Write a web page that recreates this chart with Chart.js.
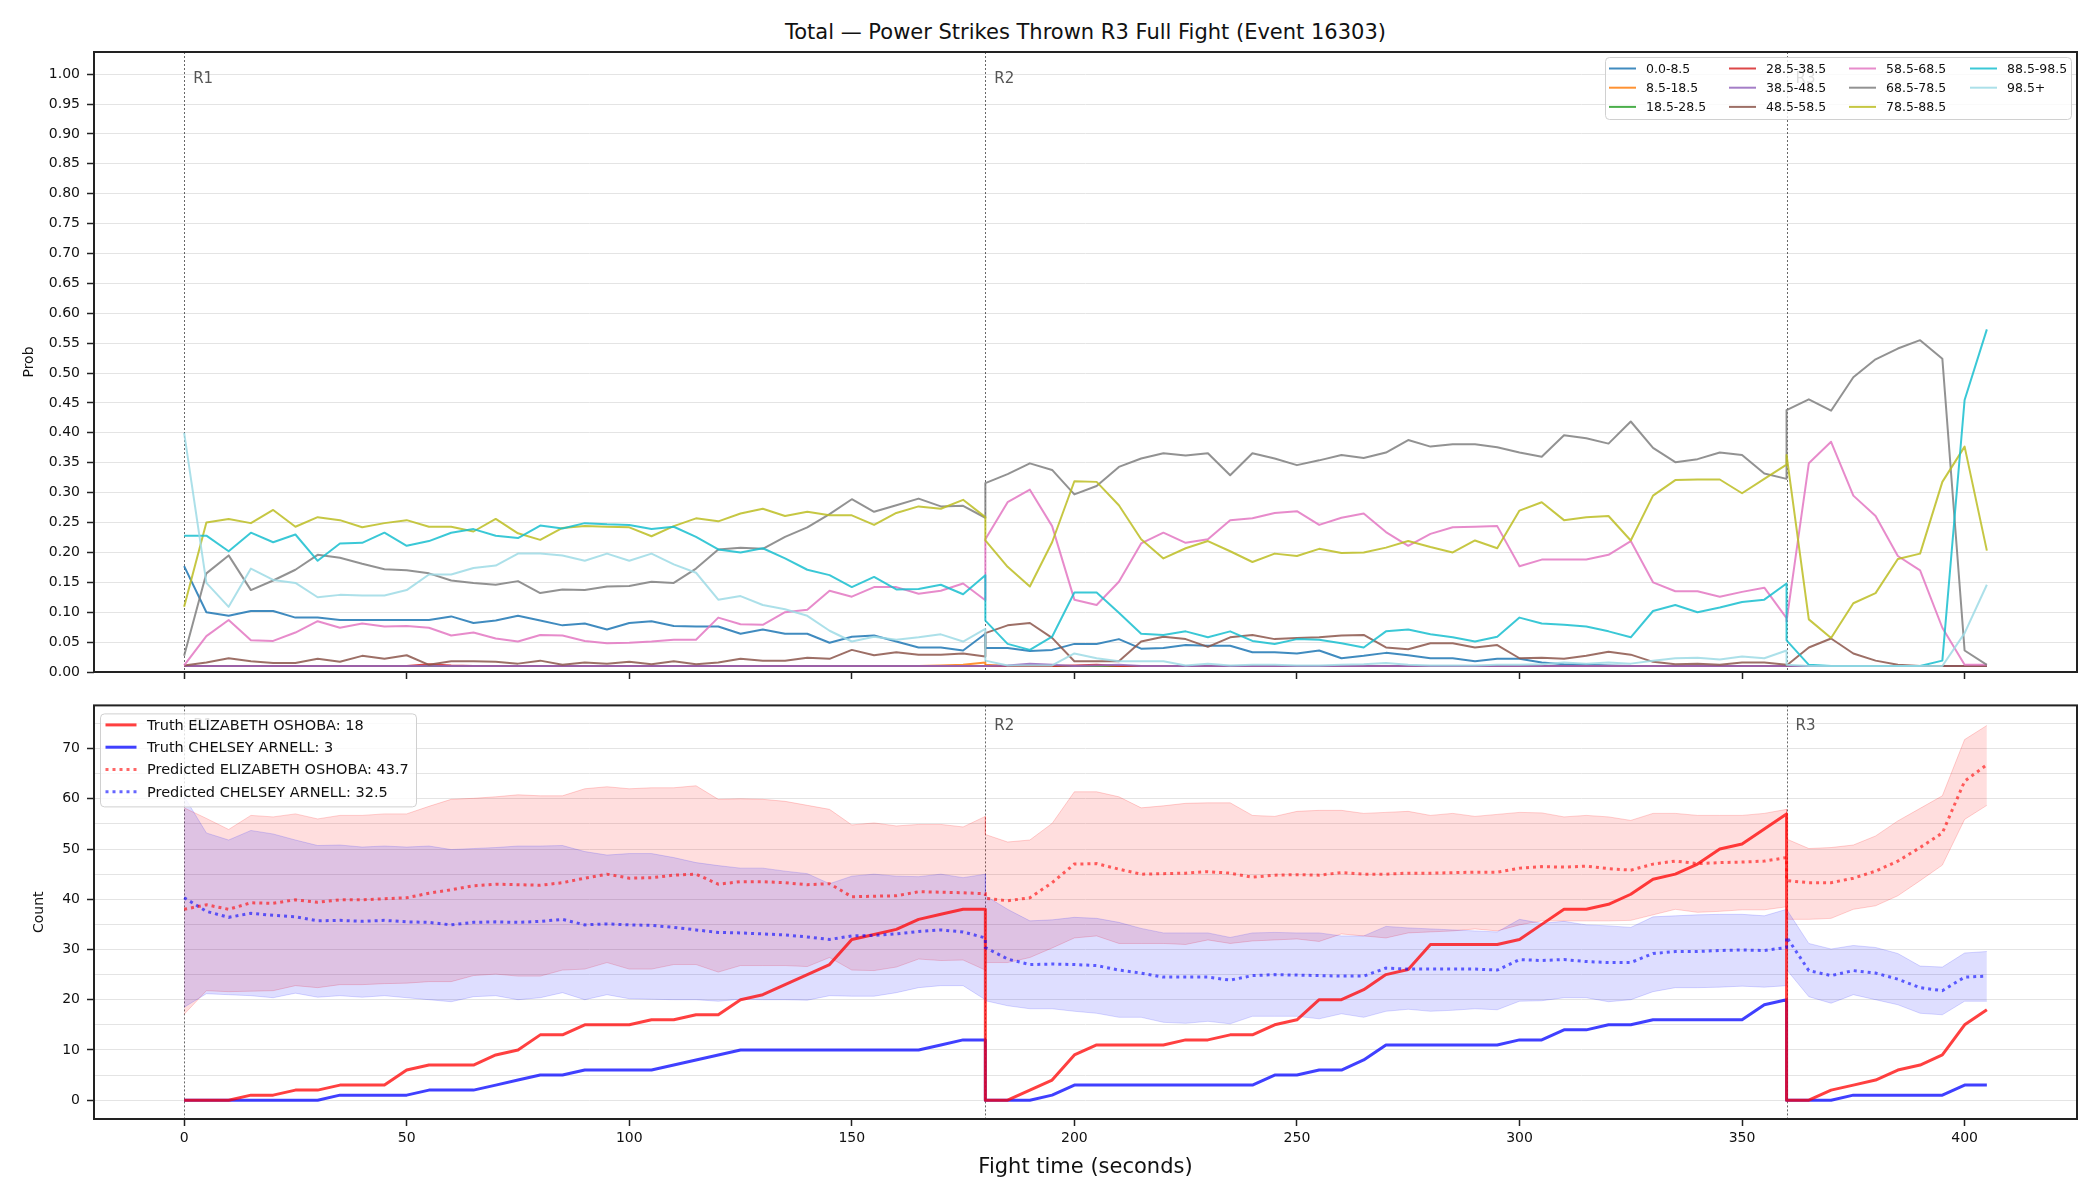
<!DOCTYPE html>
<html>
<head>
<meta charset="utf-8">
<script src="https://cdn.jsdelivr.net/npm/chart.js@4.4.1/dist/chart.umd.min.js"></script>
<style>
  body { margin: 0; background: #fff; }
  #wrap { position: relative; width: 2100px; height: 1200px; font-family: "DejaVu Sans", sans-serif; }
  #title { position: absolute; left: 94px; width: 1983px; top: 20px; text-align: center; font-size: 21px; line-height: 24px; color: #111; }
  #probChart { position: absolute; left: 0; top: 0; }
  #countChart { position: absolute; left: 0; top: 690px; }
</style>
</head>
<body>
<div id="wrap">
  <div id="title">Total — Power Strikes Thrown R3 Full Fight (Event 16303)</div>
  <canvas id="probChart" width="2100" height="690"></canvas>
  <canvas id="countChart" width="2100" height="510"></canvas>
</div>
<script>
// fight time (seconds); round boundaries appear twice (end of one round, start of the next)
const times = [
  0, 5, 10, 15, 20, 25, 30, 35, 40, 45, 50, 55, 60, 65, 70, 75, 80, 85, 90, 95,
  100, 105, 110, 115, 120, 125, 130, 135, 140, 145, 150, 155, 160, 165, 170, 175, 180,
  180, 185, 190, 195, 200, 205, 210, 215, 220, 225, 230, 235, 240, 245, 250, 255, 260, 265, 270, 275,
  280, 285, 290, 295, 300, 305, 310, 315, 320, 325, 330, 335, 340, 345, 350, 355, 360,
  360, 365, 370, 375, 380, 385, 390, 395, 400, 405
];
const roundStarts = [0, 180, 360];
const roundNames = ['R1', 'R2', 'R3'];
const timeTicks = [0, 50, 100, 150, 200, 250, 300, 350, 400];
const probTicks = [0, 0.05, 0.1, 0.15, 0.2, 0.25, 0.3, 0.35, 0.4, 0.45, 0.5, 0.55, 0.6, 0.65, 0.7, 0.75, 0.8, 0.85, 0.9, 0.95, 1.0];
const countTicks = [0, 5, 10, 15, 20, 25, 30, 35, 40, 45, 50, 55, 60, 65, 70, 75];

const binLabels = ['0.0-8.5', '8.5-18.5', '18.5-28.5', '28.5-38.5', '38.5-48.5', '48.5-58.5',
                   '58.5-68.5', '68.5-78.5', '78.5-88.5', '88.5-98.5', '98.5+'];

// probability of each bin over time
const p0to8 = [
  0.177, 0.10, 0.094, 0.102, 0.102, 0.091, 0.091, 0.087, 0.087, 0.087,
  0.087, 0.087, 0.093, 0.082, 0.086, 0.094, 0.086, 0.078, 0.081, 0.071,
  0.082, 0.085, 0.077, 0.076, 0.076, 0.064, 0.071, 0.064, 0.064, 0.049,
  0.059, 0.061, 0.051, 0.041, 0.041, 0.036, 0.064,
  0.04, 0.04, 0.035, 0.037, 0.047, 0.047, 0.055, 0.039, 0.04, 0.045,
  0.044, 0.044, 0.033, 0.033, 0.031, 0.036, 0.023, 0.027, 0.032, 0.028,
  0.023, 0.023, 0.018, 0.022, 0.022, 0.016, 0.013, 0.012, 0.011, 0.01,
  0.01, 0.01, 0.01, 0.01, 0.01, 0.01, 0.01,
  0.01, 0.01, 0.01, 0.01, 0.01, 0.01, 0.01, 0.01, 0.01, 0.01
];
const p8to18 = [
  0.01, 0.01, 0.01, 0.01, 0.01, 0.01, 0.01, 0.01, 0.01, 0.01,
  0.01, 0.01, 0.01, 0.01, 0.01, 0.01, 0.01, 0.01, 0.01, 0.01,
  0.01, 0.01, 0.01, 0.01, 0.01, 0.01, 0.01, 0.01, 0.01, 0.01,
  0.01, 0.01, 0.01, 0.01, 0.011, 0.012, 0.016,
  0.012, 0.01, 0.01, 0.01, 0.01, 0.01, 0.01, 0.01, 0.01, 0.01,
  0.01, 0.01, 0.01, 0.01, 0.01, 0.01, 0.01, 0.01, 0.01, 0.01,
  0.01, 0.01, 0.01, 0.01, 0.01, 0.01, 0.01, 0.01, 0.01, 0.01,
  0.01, 0.01, 0.01, 0.01, 0.01, 0.01, 0.01,
  0.01, 0.01, 0.01, 0.01, 0.01, 0.01, 0.01, 0.01, 0.01, 0.01
];
const p18to28 = [
  0.01, 0.01, 0.01, 0.01, 0.01, 0.01, 0.01, 0.01, 0.01, 0.01,
  0.01, 0.01, 0.01, 0.01, 0.01, 0.01, 0.01, 0.01, 0.01, 0.01,
  0.01, 0.01, 0.01, 0.01, 0.01, 0.01, 0.01, 0.01, 0.01, 0.01,
  0.01, 0.01, 0.01, 0.01, 0.01, 0.01, 0.01,
  0.01, 0.01, 0.01, 0.01, 0.01, 0.01, 0.01, 0.01, 0.01, 0.01,
  0.01, 0.01, 0.01, 0.01, 0.01, 0.01, 0.01, 0.01, 0.01, 0.01,
  0.01, 0.01, 0.01, 0.01, 0.01, 0.01, 0.01, 0.01, 0.01, 0.01,
  0.01, 0.01, 0.01, 0.01, 0.01, 0.01, 0.01,
  0.01, 0.01, 0.01, 0.01, 0.01, 0.01, 0.01, 0.01, 0.01, 0.01
];
const p28to38 = [
  0.01, 0.01, 0.01, 0.01, 0.01, 0.01, 0.01, 0.01, 0.01, 0.01,
  0.01, 0.013, 0.011, 0.01, 0.01, 0.01, 0.01, 0.01, 0.01, 0.01,
  0.01, 0.01, 0.01, 0.01, 0.01, 0.01, 0.01, 0.01, 0.01, 0.01,
  0.01, 0.01, 0.01, 0.01, 0.01, 0.01, 0.01,
  0.01, 0.01, 0.01, 0.01, 0.011, 0.012, 0.01, 0.01, 0.01, 0.01,
  0.01, 0.01, 0.01, 0.01, 0.01, 0.01, 0.01, 0.01, 0.01, 0.01,
  0.01, 0.01, 0.01, 0.01, 0.01, 0.01, 0.01, 0.01, 0.01, 0.01,
  0.01, 0.01, 0.01, 0.01, 0.01, 0.01, 0.01,
  0.01, 0.01, 0.01, 0.01, 0.01, 0.01, 0.01, 0.01, 0.01, 0.01
];
const p38to48 = [
  0.01, 0.01, 0.01, 0.01, 0.01, 0.01, 0.01, 0.01, 0.01, 0.01,
  0.01, 0.01, 0.01, 0.01, 0.01, 0.01, 0.01, 0.01, 0.01, 0.01,
  0.01, 0.01, 0.01, 0.01, 0.01, 0.01, 0.01, 0.01, 0.01, 0.01,
  0.01, 0.01, 0.01, 0.01, 0.01, 0.01, 0.01,
  0.01, 0.011, 0.014, 0.012, 0.01, 0.011, 0.012, 0.01, 0.01, 0.01,
  0.01, 0.01, 0.01, 0.01, 0.01, 0.01, 0.01, 0.01, 0.01, 0.01,
  0.01, 0.01, 0.01, 0.01, 0.01, 0.01, 0.01, 0.01, 0.01, 0.01,
  0.01, 0.01, 0.01, 0.01, 0.01, 0.01, 0.01,
  0.01, 0.01, 0.01, 0.01, 0.01, 0.01, 0.01, 0.01, 0.01, 0.01
];
const p48to58 = [
  0.011, 0.016, 0.023, 0.018, 0.015, 0.015, 0.022, 0.017, 0.027, 0.022,
  0.028, 0.012, 0.018, 0.018, 0.017, 0.014, 0.019, 0.012, 0.016, 0.014,
  0.017, 0.013, 0.018, 0.013, 0.016, 0.022, 0.019, 0.019, 0.024, 0.022,
  0.037, 0.028, 0.033, 0.029, 0.029, 0.031, 0.026,
  0.065, 0.078, 0.082, 0.057, 0.018, 0.018, 0.018, 0.051, 0.059, 0.055,
  0.042, 0.058, 0.062, 0.055, 0.057, 0.058, 0.061, 0.062, 0.041, 0.038,
  0.048, 0.048, 0.041, 0.045, 0.023, 0.024, 0.022, 0.027, 0.034, 0.029,
  0.017, 0.013, 0.014, 0.012, 0.016, 0.016, 0.012,
  0.011, 0.041, 0.056, 0.031, 0.019, 0.012, 0.01, 0.01, 0.01, 0.01
];
const p58to68 = [
  0.011, 0.06, 0.087, 0.053, 0.052, 0.066, 0.085, 0.074, 0.081, 0.076,
  0.077, 0.074, 0.061, 0.066, 0.056, 0.051, 0.062, 0.061, 0.052, 0.048,
  0.049, 0.051, 0.054, 0.054, 0.091, 0.08, 0.079, 0.10, 0.104, 0.136,
  0.126, 0.142, 0.142, 0.131, 0.136, 0.148, 0.12,
  0.222, 0.284, 0.305, 0.244, 0.121, 0.112, 0.151, 0.215, 0.233, 0.216,
  0.222, 0.254, 0.257, 0.266, 0.269, 0.246, 0.258, 0.265, 0.234, 0.211,
  0.231, 0.242, 0.243, 0.244, 0.177, 0.188, 0.188, 0.188, 0.196, 0.219,
  0.15, 0.135, 0.135, 0.126, 0.134, 0.141, 0.09,
  0.085, 0.349, 0.385, 0.295, 0.261, 0.194, 0.17, 0.074, 0.012, 0.012
];
const p68to78 = [
  0.027, 0.165, 0.195, 0.137, 0.153, 0.171, 0.196, 0.191, 0.181, 0.172,
  0.17, 0.165, 0.153, 0.149, 0.146, 0.152, 0.132, 0.138, 0.137, 0.143,
  0.144, 0.151, 0.149, 0.173, 0.205, 0.208, 0.206, 0.226, 0.242, 0.264,
  0.289, 0.268, 0.279, 0.29, 0.277, 0.278, 0.258,
  0.316, 0.331, 0.349, 0.338, 0.297, 0.311, 0.343, 0.357, 0.366, 0.362,
  0.366, 0.329, 0.366, 0.357, 0.346, 0.354, 0.363, 0.358, 0.367, 0.388,
  0.377, 0.381, 0.381, 0.376, 0.367, 0.36, 0.396, 0.391, 0.382, 0.419,
  0.375, 0.351, 0.356, 0.367, 0.363, 0.332, 0.323,
  0.438, 0.456, 0.437, 0.493, 0.523, 0.541, 0.555, 0.524, 0.036, 0.012
];
const p78to88 = [
  0.109, 0.25, 0.256, 0.249, 0.271, 0.243, 0.259, 0.254, 0.242, 0.249,
  0.254, 0.243, 0.243, 0.235, 0.256, 0.232, 0.221, 0.241, 0.244, 0.243,
  0.242, 0.227, 0.244, 0.257, 0.252, 0.265, 0.273, 0.261, 0.268, 0.262,
  0.262, 0.246, 0.266, 0.277, 0.273, 0.288, 0.259,
  0.22, 0.176, 0.143, 0.217, 0.319, 0.318, 0.279, 0.222, 0.19, 0.207,
  0.219, 0.202, 0.184, 0.198, 0.194, 0.206, 0.199, 0.2, 0.208, 0.219,
  0.209, 0.2, 0.22, 0.207, 0.27, 0.284, 0.254, 0.259, 0.261, 0.22,
  0.295, 0.321, 0.322, 0.322, 0.299, 0.323, 0.347,
  0.363, 0.088, 0.057, 0.115, 0.132, 0.189, 0.198, 0.318, 0.377, 0.203
];
const p88to98 = [
  0.228, 0.228, 0.202, 0.233, 0.217, 0.23, 0.186, 0.215, 0.216, 0.233,
  0.211, 0.219, 0.233, 0.239, 0.228, 0.224, 0.245, 0.24, 0.249, 0.247,
  0.246, 0.239, 0.243, 0.226, 0.205, 0.2, 0.207, 0.19, 0.171, 0.162,
  0.142, 0.159, 0.138, 0.139, 0.146, 0.13, 0.162,
  0.086, 0.047, 0.037, 0.059, 0.133, 0.133, 0.099, 0.064, 0.062, 0.068,
  0.058, 0.068, 0.052, 0.047, 0.055, 0.054, 0.048, 0.041, 0.068, 0.071,
  0.063, 0.058, 0.051, 0.059, 0.091, 0.081, 0.079, 0.076, 0.068, 0.058,
  0.102, 0.112, 0.10, 0.108, 0.117, 0.121, 0.148,
  0.053, 0.012, 0.01, 0.01, 0.01, 0.01, 0.01, 0.019, 0.455, 0.573
];
const p98plus = [
  0.40, 0.149, 0.109, 0.173, 0.154, 0.149, 0.125, 0.129, 0.128, 0.128,
  0.137, 0.163, 0.163, 0.174, 0.178, 0.198, 0.198, 0.195, 0.186, 0.198,
  0.186, 0.198, 0.18, 0.166, 0.121, 0.127, 0.112, 0.105, 0.094, 0.069,
  0.051, 0.059, 0.054, 0.058, 0.063, 0.051, 0.072,
  0.019, 0.011, 0.011, 0.011, 0.031, 0.023, 0.018, 0.018, 0.018, 0.011,
  0.014, 0.011, 0.012, 0.012, 0.011, 0.011, 0.012, 0.013, 0.015, 0.012,
  0.011, 0.011, 0.011, 0.012, 0.012, 0.013, 0.016, 0.014, 0.016, 0.014,
  0.019, 0.023, 0.024, 0.021, 0.026, 0.023, 0.036,
  0.012, 0.01, 0.01, 0.01, 0.01, 0.01, 0.01, 0.01, 0.065, 0.146
];

// cumulative counts: truth and predicted (with interval)
const fighterA = 'ELIZABETH OSHOBA';
const fighterB = 'CHELSEY ARNELL';
const truthA = [
  0, 0, 0, 1, 1, 2, 2, 3, 3, 3, 6, 7, 7, 7, 9, 10, 13, 13, 15, 15,
  15, 16, 16, 17, 17, 20, 21, 23, 25, 27, 32, 33, 34, 36, 37, 38, 38,
  0, 0, 2, 4, 9, 11, 11, 11, 11, 12, 12, 13, 13, 15, 16, 20, 20, 22, 25, 26,
  31, 31, 31, 31, 32, 35, 38, 38, 39, 41, 44, 45, 47, 50, 51, 54, 57,
  0, 0, 2, 3, 4, 6, 7, 9, 15, 18
];
const truthB = [
  0, 0, 0, 0, 0, 0, 0, 1, 1, 1, 1, 2, 2, 2, 3, 4, 5, 5, 6, 6,
  6, 6, 7, 8, 9, 10, 10, 10, 10, 10, 10, 10, 10, 10, 11, 12, 12,
  0, 0, 0, 1, 3, 3, 3, 3, 3, 3, 3, 3, 3, 5, 5, 6, 6, 8, 11, 11,
  11, 11, 11, 11, 12, 12, 14, 14, 15, 15, 16, 16, 16, 16, 16, 19, 20,
  0, 0, 0, 1, 1, 1, 1, 1, 3, 3
];
const predA = [
  38.0, 38.9, 38.0, 39.3, 39.2, 39.9, 39.4, 39.9, 39.9, 40.1,
  40.3, 41.2, 41.9, 42.7, 43.0, 42.9, 42.8, 43.3, 44.2, 45.0,
  44.2, 44.3, 44.8, 45.0, 43.0, 43.5, 43.5, 43.3, 42.9, 43.1,
  40.5, 40.6, 40.7, 41.5, 41.4, 41.3, 41.1,
  40.2, 39.7, 40.3, 43.3, 47.0, 47.1, 46.0, 45.0, 45.1, 45.2,
  45.5, 45.2, 44.4, 44.8, 44.9, 44.8, 45.3, 45.0, 45.0, 45.2,
  45.2, 45.3, 45.4, 45.4, 46.2, 46.5, 46.4, 46.6, 46.1, 45.8,
  47.0, 47.6, 47.1, 47.3, 47.4, 47.6, 48.3,
  43.7, 43.3, 43.3, 44.2, 45.6, 47.6, 50.3, 53.2, 63.5, 66.8
];
const predB = [
  40.3, 37.6, 36.4, 37.2, 36.8, 36.5, 35.7, 35.8, 35.6, 35.8,
  35.5, 35.4, 34.9, 35.4, 35.5, 35.4, 35.6, 36.0, 34.9, 35.1,
  34.9, 34.8, 34.4, 33.9, 33.4, 33.3, 33.1, 32.9, 32.5, 32.0,
  32.7, 32.8, 33.1, 33.6, 33.9, 33.5, 32.3,
  30.4, 28.1, 27.0, 27.1, 27.0, 26.8, 25.9, 25.3, 24.5, 24.5,
  24.5, 23.9, 24.8, 25.0, 24.9, 24.8, 24.7, 24.7, 26.3, 26.1,
  26.1, 26.1, 26.1, 25.9, 28.0, 27.8, 28.0, 27.6, 27.4, 27.4,
  29.2, 29.6, 29.6, 29.8, 29.9, 29.8, 30.4,
  32.5, 25.8, 24.8, 25.8, 25.3, 24.1, 22.4, 21.8, 24.5, 24.7
];
const highA = [
  58.2, 56.1, 53.9, 56.7, 56.4, 57.0, 56.0, 56.7, 56.7, 57.0,
  57.0, 58.5, 59.9, 60.1, 60.4, 60.8, 60.6, 60.6, 62.0, 62.4,
  62.0, 62.2, 62.2, 62.6, 59.9, 60.0, 59.9, 59.5, 58.7, 57.9,
  54.8, 55.2, 54.6, 54.9, 54.9, 54.4, 56.5,
  52.9, 51.4, 51.8, 55.1, 61.4, 61.4, 60.4, 58.2, 58.6, 59.1,
  59.2, 59.2, 56.7, 56.5, 57.5, 57.7, 57.7, 57.1, 57.3, 57.5,
  56.7, 57.1, 56.5, 56.9, 57.3, 57.2, 56.4, 56.7, 56.4, 55.7,
  57.1, 57.1, 56.7, 56.7, 56.7, 57.1, 57.9,
  52.0, 50.1, 50.3, 50.8, 52.6, 55.6, 58.1, 60.6, 71.8, 74.6
];
const lowA = [
  17.1, 21.8, 21.6, 21.7, 21.8, 22.8, 22.4, 23.0, 23.0, 23.2,
  23.3, 23.6, 23.6, 24.8, 25.1, 24.7, 24.7, 25.9, 26.1, 27.4,
  26.1, 26.1, 27.0, 27.0, 25.5, 26.8, 26.8, 26.8, 26.6, 28.4,
  25.9, 25.8, 26.5, 28.1, 27.8, 27.9, 25.9,
  27.4, 27.4, 28.4, 30.3, 32.3, 32.7, 31.2, 31.2, 31.2, 31.0,
  31.9, 31.2, 31.7, 31.9, 32.1, 31.6, 33.1, 32.7, 32.3, 33.3,
  33.5, 33.7, 34.1, 33.7, 34.9, 35.7, 35.7, 35.7, 35.7, 35.8,
  36.9, 38.0, 37.4, 37.6, 37.9, 37.9, 38.5,
  36.0, 36.0, 36.2, 38.0, 38.7, 40.7, 43.7, 46.8, 55.9, 58.7
];
const highB = [
  60.5, 53.2, 51.8, 53.7, 53.0, 51.8, 50.7, 50.8, 50.4, 50.6,
  50.4, 50.6, 49.9, 50.1, 50.3, 50.6, 50.6, 50.7, 49.5, 48.8,
  49.1, 49.1, 48.3, 47.3, 46.7, 46.2, 46.2, 45.6, 45.1, 43.1,
  44.6, 45.0, 44.6, 44.5, 45.0, 44.3, 45.0,
  40.7, 38.0, 35.7, 35.9, 36.4, 36.2, 35.4, 34.2, 33.3, 33.3,
  33.3, 32.4, 33.3, 33.4, 33.3, 33.3, 32.7, 32.7, 34.6, 34.3,
  34.1, 33.9, 33.7, 33.5, 36.0, 35.2, 35.6, 34.9, 34.7, 34.4,
  36.5, 36.7, 36.9, 37.0, 37.0, 36.7, 38.0,
  38.0, 31.2, 30.1, 30.8, 30.4, 29.2, 26.7, 26.5, 29.3, 29.6
];
const lowB = [
  18.5, 21.2, 21.0, 20.8, 20.4, 21.3, 20.5, 20.8, 20.5, 20.8,
  20.4, 20.0, 19.6, 20.6, 20.8, 20.0, 20.4, 21.4, 20.0, 21.0,
  20.2, 20.1, 20.0, 20.0, 19.7, 20.1, 20.0, 20.0, 19.9, 20.8,
  20.7, 20.7, 21.4, 22.4, 22.8, 22.8, 20.0,
  19.8, 18.8, 18.2, 18.2, 17.7, 17.3, 16.5, 16.5, 15.5, 15.3,
  15.7, 15.2, 16.7, 16.7, 16.7, 16.2, 17.2, 16.5, 17.7, 18.1,
  17.7, 17.9, 18.2, 18.0, 19.7, 19.8, 20.4, 20.4, 19.6, 20.0,
  21.6, 22.4, 22.4, 22.5, 22.7, 22.5, 22.8,
  26.0, 20.6, 19.3, 21.0, 20.0, 19.0, 17.3, 17.0, 19.7, 19.7
];
const countLegend = [
  'Truth ' + fighterA + ': 18',
  'Truth ' + fighterB + ': 3',
  'Predicted ' + fighterA + ': 43.7',
  'Predicted ' + fighterB + ': 32.5'
];

const binSeries = [p0to8, p8to18, p18to28, p28to38, p38to48, p48to58, p58to68, p68to78, p78to88, p88to98, p98plus];
const binColors = [
  'rgba(31,119,180,0.85)', 'rgba(255,127,14,0.85)', 'rgba(44,160,44,0.85)', 'rgba(214,39,40,0.85)',
  'rgba(148,103,189,0.85)', 'rgba(140,86,75,0.85)', 'rgba(227,119,194,0.85)', 'rgba(127,127,127,0.85)',
  'rgba(188,189,34,0.85)', 'rgba(23,190,207,0.85)', 'rgba(158,218,229,0.85)'
];
const RED = 'rgba(255,0,0,0.75)';
const BLUE = 'rgba(0,0,255,0.75)';
const RED_DOT = 'rgba(255,0,0,0.6)';
const BLUE_DOT = 'rgba(0,0,255,0.6)';

Chart.defaults.font.family = '"DejaVu Sans", sans-serif';
Chart.defaults.color = '#111';

function pts(vals) {
  return times.map((t, i) => ({ x: t, y: vals[i] }));
}

function drawLegend(ctx, a, lg) {
  const x0 = lg.right !== undefined ? a.right - lg.right - lg.w : a.left + lg.left;
  const y0 = a.top + lg.top;
  ctx.save();
  ctx.beginPath();
  ctx.roundRect(x0 + 0.5, y0 + 0.5, lg.w, lg.h, 4);
  ctx.fillStyle = 'rgba(255,255,255,0.8)';
  ctx.fill();
  ctx.strokeStyle = '#d0d0d0';
  ctx.lineWidth = 1;
  ctx.stroke();
  ctx.font = lg.font + 'px "DejaVu Sans"';
  ctx.textBaseline = 'middle';
  lg.items.forEach((it, i) => {
    const col = Math.floor(i / lg.rows);
    const row = i % lg.rows;
    const lx = x0 + lg.colX[col];
    const ly = y0 + lg.rowY + row * lg.rowGap;
    ctx.strokeStyle = it.color;
    ctx.lineWidth = it.width;
    ctx.setLineDash(it.dash || []);
    ctx.beginPath();
    ctx.moveTo(lx, ly);
    ctx.lineTo(lx + lg.lineLen, ly);
    ctx.stroke();
    ctx.fillStyle = '#111';
    ctx.fillText(it.text, lx + lg.textDx, ly + 1);
  });
  ctx.restore();
}

function makeDecor(legend) {
  return {
    id: 'decor',
    beforeDatasetsDraw(chart) {
      const { ctx, chartArea: a, scales: { x } } = chart;
      ctx.save();
      ctx.strokeStyle = 'rgba(40,40,40,0.7)';
      ctx.lineWidth = 1;
      ctx.setLineDash([2, 2]);
      roundStarts.forEach(t => {
        const px = Math.round(x.getPixelForValue(t)) + 0.5;
        ctx.beginPath();
        ctx.moveTo(px, a.top);
        ctx.lineTo(px, a.bottom);
        ctx.stroke();
      });
      ctx.restore();
    },
    afterDatasetsDraw(chart) {
      const { ctx, chartArea: a, scales: { x, y } } = chart;
      ctx.save();
      ctx.font = '15px "DejaVu Sans"';
      ctx.fillStyle = '#555';
      ctx.textBaseline = 'top';
      const ly = y.getPixelForValue(y.max * 0.97) + 1;
      roundStarts.forEach((t, i) => ctx.fillText(roundNames[i], x.getPixelForValue(t) + 9, ly));
      ctx.setLineDash([]);
      ctx.strokeStyle = '#222';
      ctx.lineWidth = 2;
      ctx.strokeRect(a.left, a.top, a.right - a.left, a.bottom - a.top);
      ctx.restore();
      drawLegend(ctx, a, legend);
    }
  };
}

function xAxis(showLabels, height) {
  return {
    type: 'linear',
    min: -20.25,
    max: 425.25,
    afterBuildTicks: s => { s.ticks = timeTicks.map(v => ({ value: v })); },
    afterFit: s => { s.height = height; },
    border: { display: false },
    grid: { drawOnChartArea: false, drawTicks: true, tickLength: 7, tickColor: '#222', tickWidth: 1.5 },
    ticks: { display: showLabels, autoSkip: false, maxRotation: 0, padding: 4, font: { size: 14 }, color: '#111' }
  };
}

// top panel: probability per bin
new Chart(document.getElementById('probChart'), {
  type: 'line',
  data: {
    datasets: binLabels.map((label, i) => ({
      label: label,
      data: pts(binSeries[i]),
      borderColor: binColors[i],
      borderWidth: 2,
      borderJoinStyle: 'round',
      pointRadius: 0,
      fill: false,
      tension: 0,
      order: binLabels.length - i
    }))
  },
  options: {
    responsive: false,
    animation: false,
    devicePixelRatio: 1,
    layout: { padding: { left: 0, right: 23, top: 52, bottom: 0 } },
    plugins: { legend: { display: false }, tooltip: { enabled: false } },
    scales: {
      x: xAxis(false, 18),
      y: {
        type: 'linear',
        min: 0,
        max: 1.037,
        afterBuildTicks: s => { s.ticks = probTicks.map(v => ({ value: v })); },
        afterFit: s => { s.width = 94; },
        border: { display: false },
        grid: { color: '#e4e4e4', lineWidth: 1, tickLength: 7, tickColor: '#222', tickWidth: 1.5 },
        ticks: { autoSkip: false, padding: 7, font: { size: 14 }, color: '#111', callback: v => v.toFixed(2) },
        title: { display: true, text: 'Prob', font: { size: 14 }, color: '#111', padding: { top: 21, bottom: 0 } }
      }
    }
  },
  plugins: [makeDecor({
    right: 6, top: 5, w: 466, h: 62, rows: 3,
    colX: [4, 124, 244, 365], rowY: 11.5, rowGap: 19.2,
    lineLen: 27, textDx: 37, font: 12.5,
    items: binLabels.map((l, i) => ({ text: l, color: binColors[i], width: 2 }))
  })]
});

// bottom panel: cumulative counts
new Chart(document.getElementById('countChart'), {
  type: 'line',
  data: {
    datasets: [
      { label: countLegend[0], data: pts(truthA), borderColor: RED, borderWidth: 3, borderJoinStyle: 'round', pointRadius: 0, fill: false, order: 2 },
      { label: countLegend[1], data: pts(truthB), borderColor: BLUE, borderWidth: 3, borderJoinStyle: 'round', pointRadius: 0, fill: false, order: 2 },
      { label: countLegend[2], data: pts(predA), borderColor: RED_DOT, borderWidth: 3, borderDash: [3, 4], pointRadius: 0, fill: false, order: 1 },
      { label: countLegend[3], data: pts(predB), borderColor: BLUE_DOT, borderWidth: 3, borderDash: [3, 4], pointRadius: 0, fill: false, order: 1 },
      { label: 'bandA high', data: pts(highA), borderColor: 'rgba(255,0,0,0.18)', borderWidth: 1, pointRadius: 0, fill: '+1', backgroundColor: 'rgba(255,0,0,0.13)', order: 4 },
      { label: 'bandA low', data: pts(lowA), borderColor: 'rgba(255,0,0,0.18)', borderWidth: 1, pointRadius: 0, fill: false, order: 4 },
      { label: 'bandB high', data: pts(highB), borderColor: 'rgba(0,0,255,0.15)', borderWidth: 1, pointRadius: 0, fill: '+1', backgroundColor: 'rgba(0,0,255,0.13)', order: 3 },
      { label: 'bandB low', data: pts(lowB), borderColor: 'rgba(0,0,255,0.15)', borderWidth: 1, pointRadius: 0, fill: false, order: 3 }
    ]
  },
  options: {
    responsive: false,
    animation: false,
    devicePixelRatio: 1,
    layout: { padding: { left: 0, right: 23, top: 14, bottom: 0 } },
    plugins: { legend: { display: false }, tooltip: { enabled: false } },
    scales: {
      x: Object.assign(xAxis(true, 81), {
        title: { display: true, text: 'Fight time (seconds)', font: { size: 21 }, color: '#111', padding: { top: 0, bottom: 20 } }
      }),
      y: {
        type: 'linear',
        min: -3.75,
        max: 78.6,
        afterBuildTicks: s => { s.ticks = countTicks.map(v => ({ value: v })); },
        afterFit: s => { s.width = 94; },
        border: { display: false },
        grid: {
          color: '#e4e4e4', lineWidth: 1, tickLength: 7, tickWidth: 1.5,
          tickColor: c => (c.tick && c.tick.value % 10 === 0 ? '#222' : 'rgba(0,0,0,0)')
        },
        ticks: { autoSkip: false, padding: 7, font: { size: 14 }, color: '#111', callback: v => (v % 10 === 0 ? String(v) : '') },
        title: { display: true, text: 'Count', font: { size: 14 }, color: '#111', padding: { top: 31, bottom: 0 } }
      }
    }
  },
  plugins: [makeDecor({
    left: 6, top: 8, w: 316, h: 93, rows: 4,
    colX: [5.5], rowY: 11.5, rowGap: 22.3,
    lineLen: 31, textDx: 41.5, font: 14.5,
    items: [
      { text: countLegend[0], color: RED, width: 3 },
      { text: countLegend[1], color: BLUE, width: 3 },
      { text: countLegend[2], color: RED_DOT, width: 3, dash: [3, 4] },
      { text: countLegend[3], color: BLUE_DOT, width: 3, dash: [3, 4] }
    ]
  })]
});
</script>
</body>
</html>
